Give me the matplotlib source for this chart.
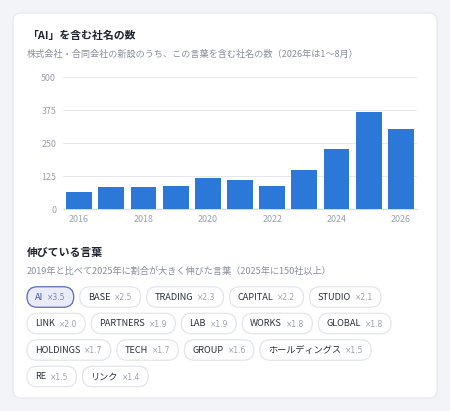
import matplotlib
matplotlib.use("Agg")
import matplotlib.pyplot as plt
from matplotlib.patches import FancyBboxPatch

plt.rcParams["font.family"] = ["Noto Sans CJK JP", "DejaVu Sans"]

# ── data ──────────────────────────────────────────────────────────────
years = [2016, 2017, 2018, 2019, 2020, 2021, 2022, 2023, 2024, 2025, 2026]
counts = [64, 83, 82, 86, 116, 110, 86, 148, 229, 367, 304]
yticks = [0, 125, 250, 375, 500]
xticks = [2016, 2018, 2020, 2022, 2024, 2026]

words = ["AI", "BASE", "TRADING", "CAPITAL", "STUDIO", "LINK", "PARTNERS", "LAB",
         "WORKS", "GLOBAL", "HOLDINGS", "TECH", "GROUP", "ホールディングス", "RE", "リンク"]
ratios = [3.5, 2.5, 2.3, 2.2, 2.1, 2.0, 1.9, 1.9, 1.8, 1.8, 1.7, 1.7, 1.6, 1.5, 1.5, 1.4]

BG, CARD, EDGE = "#f3f4f8", "#ffffff", "#e5e7ec"
BLUE = "#2b78d8"
DARK, MUTED, TICK = "#1f2430", "#8a8f9c", "#9aa0ac"

W, H = 450, 411
fig = plt.figure(figsize=(W / 100, H / 100), dpi=100)
fig.patch.set_facecolor(BG)

# overlay in pixel coordinates (y downward)
ov = fig.add_axes([0, 0, 1, 1])
ov.set_xlim(0, W)
ov.set_ylim(H, 0)
ov.axis("off")

ov.add_patch(FancyBboxPatch((13, 13), 424, 385, boxstyle="round,pad=0,rounding_size=8",
                            fc=CARD, ec=EDGE, lw=0.8, zorder=0))

ov.text(27, 36, "「AI」を含む社名の数", fontsize=7.8, fontweight="bold", color=DARK, va="center")
ov.text(27, 54, "株式会社・合同会社の新設のうち、この言葉を含む社名の数（2026年は1〜8月）",
        fontsize=6.6, color=MUTED, va="center")

# ── bar chart ─────────────────────────────────────────────────────────
ax = fig.add_axes([63 / W, 1 - 209 / H, (417 - 63) / W, (209 - 77) / H])
ax.set_facecolor("none")
ax.bar(years, counts, width=0.8, color=BLUE, zorder=3)
ax.set_xlim(2015.5, 2026.5)
ax.set_ylim(0, 500)
ax.set_yticks(yticks)
ax.set_xticks(xticks)
ax.grid(axis="y", color="#e6e8ee", lw=0.7, zorder=0)
for sp in ("top", "right", "left"):
    ax.spines[sp].set_visible(False)
ax.spines["bottom"].set_color("#d8dbe2")
ax.spines["bottom"].set_linewidth(0.8)
ax.tick_params(axis="both", length=0, labelsize=6.4, colors=TICK)
ax.tick_params(axis="x", pad=4)
ax.tick_params(axis="y", pad=5)

# ── growing words section ─────────────────────────────────────────────
ov.text(27, 253, "伸びている言葉", fontsize=7.8, fontweight="bold", color=DARK, va="center")
ov.text(27, 271, "2019年と比べて2025年に割合が大きく伸びた言葉（2025年に150社以上）",
        fontsize=6.6, color=MUTED, va="center")

renderer = fig.canvas.get_renderer()


def width_px(t):
    return t.get_window_extent(renderer).width


x0, xmax = 27, 412
row_y = [297, 323.5, 350, 376.5]
chip_h, pad_l, pad_r, gap_in, gap = 20.5, 8, 8, 4, 6
x, row = x0, 0
for i, (w, r) in enumerate(zip(words, ratios)):
    lab = ov.text(0, 0, w, fontsize=6.6, color="#2c313c", va="center")
    mul = ov.text(0, 0, f"×{r:.1f}", fontsize=5.5, color="#9aa0ac", va="center",
                  family=["DejaVu Sans"])
    lw_, mw_ = width_px(lab), width_px(mul)
    cw = pad_l + lw_ + gap_in + mw_ + pad_r
    if x + cw > xmax:
        row += 1
        x = x0
    cy = row_y[row]
    first = i == 0
    if first:
        lab.set_color("#3f51a8")
        mul.set_color("#7a86c0")
    lab.set_position((x + pad_l, cy))
    mul.set_position((x + pad_l + lw_ + gap_in, cy + 0.5))
    ov.add_patch(FancyBboxPatch((x, cy - chip_h / 2), cw, chip_h,
                                boxstyle=f"round,pad=0,rounding_size={chip_h / 2}",
                                fc="#e9ecf8" if first else "white",
                                ec="#5a68b8" if first else "#e3e5ea", lw=0.9, zorder=1))
    x += cw + gap

fig.savefig("out.png", dpi=100, facecolor=BG)
